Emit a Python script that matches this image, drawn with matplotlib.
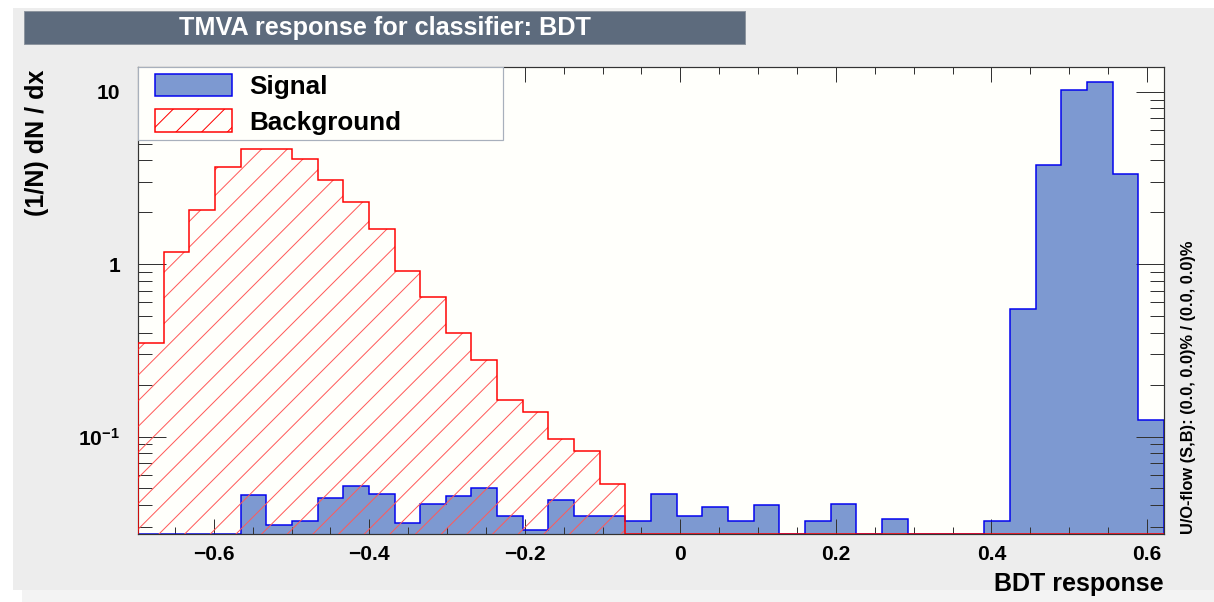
import matplotlib

matplotlib.use("Agg")

import matplotlib.pyplot as plt
import numpy as np
from matplotlib.patches import Patch, Rectangle
from matplotlib.ticker import FixedFormatter, FixedLocator, LogLocator, MultipleLocator, NullFormatter

DPI = 154
W, H = 1214, 602

# histogram range, 40 bins
X_MIN, X_MAX = -0.6975, 0.622
N_BINS = 40
Y_MIN, Y_MAX = 0.0272, 13.86

SIGNAL = [
    0, 0, 0, 0, 0.0456, 0.0306, 0.0325, 0.044, 0.0515, 0.0467,
    0.0313, 0.0408, 0.0449, 0.0506, 0.0346, 0.0286, 0.043, 0.0346, 0.0346, 0.0325,
    0.0467, 0.0345, 0.0391, 0.0325, 0.0403, 0, 0.0325, 0.0408, 0, 0.0334,
    0, 0, 0, 0.0325, 0.55, 3.74, 10.2, 11.4, 3.33, 0.124,
]
BACKGROUND = [
    0.348, 1.17, 2.06, 3.66, 4.63, 4.63, 4.05, 3.07, 2.30, 1.60,
    0.914, 0.646, 0.396, 0.277, 0.162, 0.139, 0.0967, 0.0826, 0.0531, 0,
    0, 0, 0, 0, 0, 0, 0, 0, 0, 0,
    0, 0, 0, 0, 0, 0, 0, 0, 0, 0,
]

X_TICKS = [-0.6, -0.4, -0.2, 0.0, 0.2, 0.4, 0.6]
X_TICK_LABELS = ["\u22120.6", "\u22120.4", "\u22120.2", "0", "0.2", "0.4", "0.6"]
Y_TICKS = [0.1, 1, 10]
Y_TICK_LABELS = [r"$\mathbf{10^{-1}}$", "1", "10"]
LEGEND_LABELS = ["Signal", "Background"]

TITLE = "TMVA response for classifier: BDT"
X_LABEL = "BDT response"
Y_LABEL = "(1/N) dN / dx"
OVERFLOW_TEXT = "U/O-flow (S,B): (0.0, 0.0)% / (0.0, 0.0)%"

# TMVA style colours
SIGNAL_FILL = "#7d99d1"
SIGNAL_LINE = "#0000ee"
BKG_LINE = "#ff0000"
BKG_HATCH = "#ff5a5a"
FRAME_BG = "#fffffb"
CANVAS_BG = "#ededed"
TITLE_BOX = "#5d6b7d"
AXIS_COLOR = "#333333"

AX_LEFT, AX_TOP, AX_W, AX_H = 138, 67.3, 1026, 466.7  # pixels


def pt(pixels: float) -> float:
    """Convert pixels to points at the figure dpi."""
    return pixels * 72 / DPI


def ax_x(px: float) -> float:
    return (px - AX_LEFT) / AX_W


def ax_y(py: float) -> float:
    return (AX_TOP + AX_H - py) / AX_H


plt.rcParams["font.family"] = ["Liberation Sans", "DejaVu Sans"]
plt.rcParams["font.weight"] = "bold"
plt.rcParams["mathtext.fontset"] = "custom"
plt.rcParams["mathtext.bf"] = "Liberation Sans:bold"
plt.rcParams["mathtext.rm"] = "Liberation Sans:bold"
plt.rcParams["hatch.linewidth"] = pt(1.0)
plt.rcParams["axes.linewidth"] = pt(1.2)

fig = plt.figure(figsize=(W / DPI, H / DPI), dpi=DPI, facecolor="white")

# Canvas background (screenshot frame)
fig.add_artist(Rectangle((13 / W, 1 - 590 / H), (W - 13) / W, 582 / H, transform=fig.transFigure,
                         facecolor=CANVAS_BG, edgecolor="none", zorder=-2))
fig.add_artist(Rectangle((22 / W, 0), (W - 22) / W, 12 / H, transform=fig.transFigure,
                         facecolor="#f3f3f3", edgecolor="none", zorder=-2))

# Title box
fig.add_artist(Rectangle((24 / W, 1 - 44 / H), 721 / W, 33 / H, transform=fig.transFigure,
                         facecolor=TITLE_BOX, edgecolor="#8d959f", linewidth=pt(1), zorder=1))
fig.text(384.5 / W, 1 - 27.5 / H, TITLE, color="white", fontsize=pt(25.3), fontweight="bold",
         ha="center", va="center")

ax = fig.add_axes([AX_LEFT / W, 1 - (AX_TOP + AX_H) / H, AX_W / W, AX_H / H])
ax.set_facecolor(FRAME_BG)
ax.set_yscale("log")

edges = np.linspace(X_MIN, X_MAX, N_BINS + 1)
# ROOT draws empty bins on the frame bottom
sig = np.where(np.array(SIGNAL) > 0, SIGNAL, Y_MIN)
bkg = np.where(np.array(BACKGROUND) > 0, BACKGROUND, Y_MIN)

ax.stairs(sig, edges, baseline=Y_MIN, fill=True, facecolor=SIGNAL_FILL, edgecolor="none", linewidth=0, zorder=1)
ax.stairs(sig, edges, baseline=Y_MIN, color=SIGNAL_LINE, linewidth=pt(1.5), zorder=2)
ax.stairs(bkg, edges, baseline=Y_MIN, fill=True, facecolor="none", edgecolor=BKG_HATCH, hatch="//",
          linewidth=0, zorder=3)
ax.stairs(bkg, edges, baseline=Y_MIN, color=BKG_LINE, linewidth=pt(1.5), zorder=4)

ax.set_xlim(X_MIN, X_MAX)
ax.set_ylim(Y_MIN, Y_MAX)

# Format x-axis
ax.xaxis.set_major_locator(FixedLocator(X_TICKS))
ax.xaxis.set_major_formatter(FixedFormatter(X_TICK_LABELS))
ax.xaxis.set_minor_locator(MultipleLocator(0.05))
ax.tick_params(axis="x", which="major", length=pt(15), pad=pt(11))
ax.tick_params(axis="x", which="minor", length=pt(7))

# Format y-axis
ax.yaxis.set_major_locator(FixedLocator(Y_TICKS))
ax.yaxis.set_major_formatter(FixedFormatter(Y_TICK_LABELS))
ax.yaxis.set_minor_locator(LogLocator(base=10, subs=np.arange(2, 10)))
ax.yaxis.set_minor_formatter(NullFormatter())
ax.tick_params(axis="y", which="major", length=pt(28), pad=pt(18))
ax.tick_params(axis="y", which="minor", length=pt(14))

ax.tick_params(which="both", direction="in", top=True, right=True, width=pt(1), color=AXIS_COLOR,
               labelsize=pt(21))
for label in ax.get_xticklabels() + ax.get_yticklabels():
    label.set_fontweight("bold")
for spine in ax.spines.values():
    spine.set_color(AXIS_COLOR)

ax.set_xlabel(X_LABEL, loc="right", fontsize=pt(25), fontweight="bold")
ax.xaxis.label.set_va("center")
ax.xaxis.set_label_coords(1.0, ax_y(584))

ax.set_ylabel(Y_LABEL, loc="top", fontsize=pt(25), fontweight="bold")
ax.yaxis.label.set_va("center")
ax.yaxis.set_label_coords(ax_x(37), ax_y(70))

ax.text(ax_x(1189), 0, OVERFLOW_TEXT, transform=ax.transAxes, rotation=90,
        ha="center", va="bottom", fontsize=pt(16.4), fontweight="bold")

# Legend: frame drawn as its own box, entries placed inside it
ax.add_patch(Rectangle((0, ax_y(140)), ax_x(503), 1 - ax_y(140), transform=ax.transAxes,
                       facecolor=FRAME_BG, edgecolor="#a8b0bc", linewidth=pt(1.2), zorder=9))
handles = [
    Patch(facecolor=SIGNAL_FILL, edgecolor=SIGNAL_LINE, linewidth=pt(1.5)),
    Patch(facecolor=FRAME_BG, edgecolor=BKG_LINE, hatch="//", linewidth=pt(1.5)),
]
leg = ax.legend(
    handles,
    LEGEND_LABELS,
    loc="upper left",
    bbox_to_anchor=(ax_x(155), ax_y(73.5)),
    borderaxespad=0,
    borderpad=0,
    prop={"size": pt(26), "weight": "bold"},
    handlelength=2.96,
    handleheight=0.94,
    handletextpad=0.65,
    labelspacing=0.42,
    frameon=False,
)
leg.set_zorder(10)

fig.savefig("out.png", dpi=DPI, facecolor=fig.get_facecolor())
